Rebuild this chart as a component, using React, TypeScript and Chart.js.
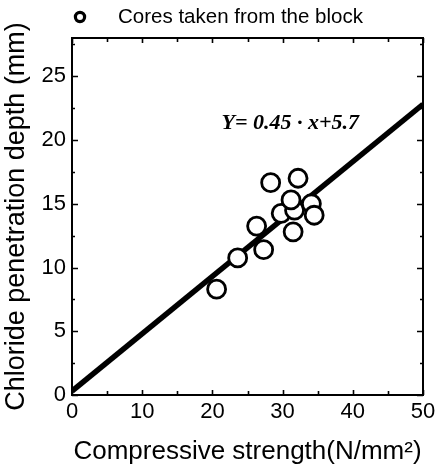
import React, { useEffect, useRef } from "react";
import { Chart, registerables } from "chart.js";

Chart.register(...registerables);

// ---- data ----
const strengthX = [20.6, 23.6, 26.3, 27.3, 28.3, 29.8, 31.7, 34.1, 31.5, 32.2, 31.2, 34.5];
const depthY = [8.3, 10.75, 13.25, 11.4, 16.65, 14.25, 14.5, 15.0, 12.8, 17.0, 15.3, 14.1];

const fitX = [0, 50];
const fitY = [0.3, 22.8];

const xMin = 0;
const xMax = 50;
const xLabelStep = 10;
const xMarkStep = 5;
const yMin = 0;
const yMax = 28;
const yLabelStep = 5;
const yMarkStep = 2.5;

const legendLabel = "Cores taken from the block";
const equationText = "Y= 0.45 \u00B7 x+5.7";
const equationAt = { x: 21.3, y: 21.3 };
const xTitle = "Compressive strength(N/mm\u00B2)";
const yTitle = "Chloride penetration depth (mm)";

const SANS = "'Liberation Sans', Arial, Helvetica, sans-serif";
const SERIF = "'Liberation Serif', 'Times New Roman', serif";

const framePlugin = {
  id: "frameTicks",
  afterDatasetsDraw(chart: any) {
    const { ctx, chartArea, scales } = chart;
    const { left, right, top, bottom } = chartArea;
    const xs = scales.x;
    const ys = scales.y;
    ctx.save();
    ctx.strokeStyle = "#000";
    ctx.lineWidth = 2;
    ctx.strokeRect(left, top, right - left, bottom - top);
    ctx.lineWidth = 1.6;
    ctx.beginPath();
    for (let v = xMin; v <= xMax + 1e-9; v += xMarkStep) {
      const px = Math.round(xs.getPixelForValue(v)) + 0.5;
      const len = v % xLabelStep === 0 ? 5 : 4;
      ctx.moveTo(px, bottom);
      ctx.lineTo(px, bottom - len);
      ctx.moveTo(px, top);
      ctx.lineTo(px, top + len);
    }
    for (let v = yMin; v <= yMax + 1e-9; v += yMarkStep) {
      const py = Math.round(ys.getPixelForValue(v)) + 0.5;
      const len = v % yLabelStep === 0 ? 6 : 3;
      ctx.moveTo(left, py);
      ctx.lineTo(left + len, py);
      ctx.moveTo(right, py);
      ctx.lineTo(right - len, py);
    }
    ctx.stroke();

    // equation annotation
    ctx.fillStyle = "#000";
    ctx.font = `italic bold 22px ${SERIF}`;
    ctx.textAlign = "left";
    ctx.textBaseline = "middle";
    ctx.fillText(equationText, xs.getPixelForValue(equationAt.x), ys.getPixelForValue(equationAt.y));
    ctx.restore();
  },
  afterDraw(chart: any) {
    const { ctx } = chart;
    ctx.save();
    // legend
    ctx.strokeStyle = "#000";
    ctx.lineWidth = 3.2;
    ctx.beginPath();
    ctx.arc(80, 17, 4.6, 0, Math.PI * 2);
    ctx.stroke();
    ctx.fillStyle = "#000";
    ctx.font = `20.5px ${SANS}`;
    ctx.textAlign = "left";
    ctx.textBaseline = "middle";
    ctx.fillText(legendLabel, 118, 17);
    ctx.restore();
  },
};

export default function App() {
  const canvasRef = useRef<HTMLCanvasElement | null>(null);

  useEffect(() => {
    document.body.style.margin = "0";
    const canvas = canvasRef.current;
    if (!canvas) return;
    const chart = new Chart(canvas, {
      type: "scatter",
      data: {
        datasets: [
          {
            label: legendLabel,
            data: strengthX.map((x, i) => ({ x, y: depthY[i] })),
            pointStyle: "circle",
            pointRadius: 9,
            pointBorderWidth: 2.8,
            pointBackgroundColor: "#fff",
            pointBorderColor: "#000",
            showLine: false,
            order: 0,
          } as any,
          {
            label: "fit",
            type: "line",
            data: fitX.map((x, i) => ({ x, y: fitY[i] })),
            borderColor: "#000",
            borderWidth: 5.5,
            pointRadius: 0,
            showLine: true,
            fill: false,
            order: 1,
          } as any,
        ],
      },
      options: {
        responsive: false,
        maintainAspectRatio: false,
        devicePixelRatio: 1,
        animation: false,
        layout: { padding: { top: 38, right: 12, left: 0, bottom: 0 } },
        plugins: {
          legend: { display: false },
          tooltip: { enabled: false },
        },
        scales: {
          x: {
            type: "linear",
            min: xMin,
            max: xMax,
            grid: { display: false, drawTicks: false },
            border: { display: false },
            ticks: {
              stepSize: xLabelStep,
              includeBounds: false,
              color: "#000",
              padding: 4,
              maxRotation: 0,
              font: { family: SANS, size: 22 },
            },
            title: {
              display: true,
              text: xTitle,
              color: "#000",
              font: { family: SANS, size: 26 },
              padding: { top: 0, bottom: 1 },
            },
            afterFit: (s: any) => {
              s.height = 73;
              s.paddingLeft = 0;
              s.paddingRight = 0;
            },
          },
          y: {
            type: "linear",
            min: yMin,
            max: yMax,
            grid: { display: false, drawTicks: false },
            border: { display: false },
            ticks: {
              stepSize: yLabelStep,
              includeBounds: false,
              color: "#000",
              padding: 6,
              font: { family: SANS, size: 22 },
            },
            title: {
              display: true,
              text: yTitle,
              color: "#000",
              font: { family: SANS, size: 27 },
              padding: { top: 0, bottom: 0 },
            },
            afterFit: (s: any) => {
              s.width = 72;
              s.paddingTop = 0;
              s.paddingBottom = 0;
            },
          },
        },
      } as any,
      plugins: [framePlugin],
    });
    return () => chart.destroy();
  }, []);

  return (
    <canvas
      ref={canvasRef}
      width={435}
      height={468}
      style={{ display: "block", width: "435px", height: "468px" }}
    />
  );
}
